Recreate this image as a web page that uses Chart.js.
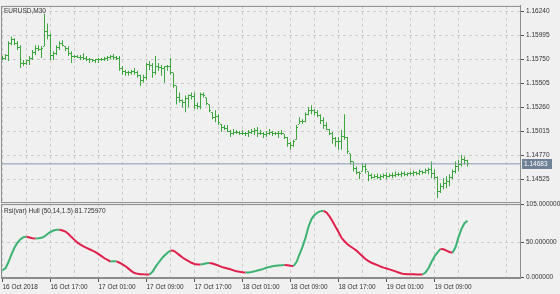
<!DOCTYPE html>
<html>
<head>
<meta charset="utf-8">
<script src="https://cdn.jsdelivr.net/npm/chart.js@4.4.1/dist/chart.umd.min.js"></script>
<style>
  html, body { margin: 0; padding: 0; background: #f0f0f0; }
  canvas { display: block; }
</style>
</head>
<body>
<canvas id="chart" width="560" height="294"></canvas>
<script>
// EURUSD M30 bars with the Rsi(var) Hull indicator pane underneath
const symbol = 'EURUSD,M30';
const indicatorName = 'Rsi(var) Hull (50,14,1.5)';

// one label every 16 bars (8 hours), first bar is 16 Oct 09:00
const timeLabels = ['16 Oct 2018', '16 Oct 17:00', '17 Oct 01:00', '17 Oct 09:00', '17 Oct 17:00',
    '18 Oct 01:00', '18 Oct 09:00', '18 Oct 17:00', '19 Oct 01:00', '19 Oct 09:00'];

const priceTicks = [1.16240, 1.15995, 1.15750, 1.15505, 1.15260, 1.15015, 1.14770, 1.14525];
const hullTicks = [105, 50, 0];

const opens = [
    1.15753, 1.15763, 1.15793, 1.15914, 1.15954, 1.15914, 1.15874, 1.15712, 1.15712, 1.15733,
    1.15763, 1.15824, 1.15864, 1.15854, 1.15884, 1.16035, 1.15994, 1.15793, 1.15813, 1.15874,
    1.15914, 1.15884, 1.15864, 1.15813, 1.15783, 1.15783, 1.15773, 1.15773, 1.15763, 1.15753,
    1.15743, 1.15733, 1.15743, 1.15743, 1.15753, 1.15763, 1.15773, 1.15783, 1.15773, 1.15763,
    1.15652, 1.15622, 1.15612, 1.15612, 1.15622, 1.15612, 1.15582, 1.15532, 1.15562, 1.15692,
    1.15682, 1.15612, 1.15672, 1.15662, 1.15652, 1.15672, 1.15672, 1.15612, 1.15481, 1.15361,
    1.15331, 1.15310, 1.15351, 1.15381, 1.15371, 1.15280, 1.15270, 1.15391, 1.15361, 1.15290,
    1.15209, 1.15159, 1.15169, 1.15089, 1.15059, 1.15049, 1.15018, 1.14998, 1.15008, 1.15008,
    1.14998, 1.14998, 1.14988, 1.15008, 1.15018, 1.15028, 1.14998, 1.14998, 1.14978, 1.14998,
    1.15008, 1.14988, 1.14998, 1.14998, 1.14988, 1.14948, 1.14888, 1.14868, 1.14928, 1.15089,
    1.15119, 1.15119, 1.15189, 1.15229, 1.15229, 1.15209, 1.15179, 1.15129, 1.15079, 1.15038,
    1.14998, 1.14938, 1.14908, 1.14908, 1.14958, 1.14948, 1.14787, 1.14706, 1.14636, 1.14596,
    1.14606, 1.14656, 1.14606, 1.14566, 1.14546, 1.14556, 1.14546, 1.14556, 1.14566, 1.14556,
    1.14566, 1.14566, 1.14576, 1.14576, 1.14586, 1.14576, 1.14586, 1.14586, 1.14596, 1.14586,
    1.14606, 1.14596, 1.14616, 1.14626, 1.14586, 1.14546, 1.14405, 1.14455, 1.14485, 1.14505,
    1.14546, 1.14606, 1.14656, 1.14676, 1.14726, 1.14716
];
const highs = [
    1.15783, 1.15803, 1.15934, 1.15984, 1.15964, 1.15934, 1.15894, 1.15743, 1.15743, 1.15783,
    1.15844, 1.15894, 1.15894, 1.15884, 1.16215, 1.16115, 1.16014, 1.15833, 1.15894, 1.15934,
    1.15944, 1.15884, 1.15884, 1.15833, 1.15793, 1.15793, 1.15793, 1.15813, 1.15783, 1.15763,
    1.15753, 1.15753, 1.15763, 1.15763, 1.15773, 1.15783, 1.15793, 1.15803, 1.15783, 1.15783,
    1.15682, 1.15642, 1.15632, 1.15642, 1.15662, 1.15632, 1.15592, 1.15592, 1.15712, 1.15733,
    1.15712, 1.15783, 1.15712, 1.15692, 1.15682, 1.15692, 1.15763, 1.15612, 1.15481, 1.15411,
    1.15341, 1.15381, 1.15391, 1.15411, 1.15411, 1.15310, 1.15411, 1.15411, 1.15361, 1.15290,
    1.15209, 1.15229, 1.15189, 1.15089, 1.15079, 1.15079, 1.15028, 1.15038, 1.15028, 1.15018,
    1.15028, 1.15008, 1.15028, 1.15038, 1.15048, 1.15059, 1.15028, 1.15008, 1.15018, 1.15038,
    1.15018, 1.15008, 1.15018, 1.15028, 1.14988, 1.14958, 1.14908, 1.14928, 1.15079, 1.15159,
    1.15139, 1.15209, 1.15260, 1.15280, 1.15240, 1.15229, 1.15189, 1.15159, 1.15109, 1.15038,
    1.15008, 1.14958, 1.14958, 1.15028, 1.15189, 1.14958, 1.14787, 1.14706, 1.14656, 1.14606,
    1.14686, 1.14686, 1.14606, 1.14586, 1.14576, 1.14586, 1.14576, 1.14586, 1.14596, 1.14586,
    1.14596, 1.14606, 1.14596, 1.14606, 1.14606, 1.14596, 1.14606, 1.14616, 1.14606, 1.14626,
    1.14616, 1.14636, 1.14646, 1.14706, 1.14626, 1.14556, 1.14485, 1.14536, 1.14556, 1.14576,
    1.14626, 1.14706, 1.14726, 1.14777, 1.14757, 1.14726
];
const lows = [
    1.15743, 1.15743, 1.15733, 1.15894, 1.15894, 1.15844, 1.15662, 1.15682, 1.15692, 1.15692,
    1.15743, 1.15793, 1.15834, 1.15763, 1.15884, 1.15954, 1.15743, 1.15743, 1.15793, 1.15844,
    1.15884, 1.15834, 1.15783, 1.15712, 1.15763, 1.15763, 1.15743, 1.15743, 1.15733, 1.15712,
    1.15722, 1.15712, 1.15712, 1.15733, 1.15733, 1.15733, 1.15753, 1.15743, 1.15743, 1.15632,
    1.15592, 1.15582, 1.15582, 1.15592, 1.15592, 1.15562, 1.15481, 1.15511, 1.15542, 1.15642,
    1.15562, 1.15592, 1.15632, 1.15582, 1.15511, 1.15632, 1.15592, 1.15461, 1.15290, 1.15310,
    1.15260, 1.15209, 1.15260, 1.15341, 1.15240, 1.15240, 1.15240, 1.15361, 1.15280, 1.15209,
    1.15139, 1.15109, 1.15079, 1.15008, 1.15028, 1.15008, 1.14958, 1.14978, 1.14988, 1.14978,
    1.14978, 1.14968, 1.14958, 1.14988, 1.14978, 1.14958, 1.14978, 1.14948, 1.14958, 1.14978,
    1.14968, 1.14978, 1.14948, 1.14978, 1.14938, 1.14857, 1.14828, 1.14857, 1.14928, 1.15089,
    1.15089, 1.15109, 1.15179, 1.15189, 1.15179, 1.15159, 1.15089, 1.15038, 1.15028, 1.14978,
    1.14888, 1.14857, 1.14828, 1.14828, 1.14928, 1.14787, 1.14676, 1.14606, 1.14576, 1.14526,
    1.14606, 1.14586, 1.14505, 1.14526, 1.14536, 1.14526, 1.14516, 1.14536, 1.14526, 1.14546,
    1.14536, 1.14546, 1.14556, 1.14546, 1.14556, 1.14556, 1.14566, 1.14556, 1.14566, 1.14566,
    1.14576, 1.14586, 1.14576, 1.14536, 1.14526, 1.14335, 1.14385, 1.14425, 1.14435, 1.14455,
    1.14526, 1.14586, 1.14606, 1.14656, 1.14676, 1.14656
];
const closes = [
    1.15763, 1.15793, 1.15914, 1.15954, 1.15914, 1.15874, 1.15712, 1.15712, 1.15733, 1.15763,
    1.15824, 1.15864, 1.15854, 1.15864, 1.16035, 1.15994, 1.15793, 1.15813, 1.15874, 1.15914,
    1.15894, 1.15864, 1.15813, 1.15783, 1.15783, 1.15773, 1.15773, 1.15763, 1.15753, 1.15743,
    1.15733, 1.15743, 1.15743, 1.15753, 1.15763, 1.15773, 1.15783, 1.15773, 1.15763, 1.15652,
    1.15622, 1.15612, 1.15612, 1.15622, 1.15612, 1.15582, 1.15532, 1.15562, 1.15692, 1.15682,
    1.15612, 1.15672, 1.15662, 1.15652, 1.15672, 1.15672, 1.15612, 1.15481, 1.15361, 1.15331,
    1.15310, 1.15351, 1.15381, 1.15371, 1.15280, 1.15270, 1.15391, 1.15381, 1.15300, 1.15229,
    1.15159, 1.15169, 1.15109, 1.15059, 1.15049, 1.15018, 1.14998, 1.15008, 1.15008, 1.14998,
    1.14998, 1.14988, 1.15008, 1.15018, 1.15028, 1.14998, 1.14998, 1.14978, 1.14998, 1.15008,
    1.14988, 1.14998, 1.14998, 1.14988, 1.14948, 1.14888, 1.14868, 1.14908, 1.15059, 1.15119,
    1.15119, 1.15189, 1.15229, 1.15229, 1.15209, 1.15179, 1.15129, 1.15079, 1.15038, 1.14998,
    1.14938, 1.14908, 1.14908, 1.14958, 1.14948, 1.14807, 1.14706, 1.14636, 1.14596, 1.14586,
    1.14656, 1.14626, 1.14566, 1.14546, 1.14556, 1.14546, 1.14556, 1.14566, 1.14556, 1.14566,
    1.14566, 1.14576, 1.14576, 1.14586, 1.14576, 1.14586, 1.14586, 1.14596, 1.14586, 1.14606,
    1.14596, 1.14616, 1.14626, 1.14586, 1.14546, 1.14405, 1.14455, 1.14485, 1.14505, 1.14546,
    1.14606, 1.14656, 1.14676, 1.14726, 1.14716, 1.14683
];
const hull = [
    10.3, 13, 22, 33, 43, 50, 55, 58, 58.5, 57.5,
    56.5, 55.9, 56.2, 57, 59, 62.5, 65.4, 67.5, 68.5, 68.7,
    67.5, 66, 62.5, 58, 54, 50, 47, 44.5, 42.5, 40.5,
    38.5, 36.2, 33.5, 30.5, 27.5, 25, 22.8, 23, 23.1, 21,
    18.5, 16, 12.5, 9, 6.2, 5, 4.5, 4.3, 4.2, 4.1,
    8, 15, 21, 26.5, 31.5, 35.5, 38.6, 38.3, 35.5, 32,
    28.5, 25.9, 23.5, 21, 19.2, 18.5, 18.4, 19.3, 20.2, 20.6,
    19.8, 18.4, 16.8, 15, 13.9, 12.8, 11.7, 10, 8.8, 7.9,
    7.4, 7, 7.1, 7.6, 8.6, 9.8, 10.8, 12.2, 13.8, 15,
    16, 16.6, 17, 17.4, 17.8, 17.5, 16.8, 16.3, 22, 33,
    44, 57, 73, 84, 90, 93.5, 95.5, 96, 93.5, 88,
    81, 73, 65.5, 57, 52, 47.8, 44.5, 41.5, 38.5, 34.5,
    30.5, 26.5, 23.3, 21, 19.2, 17.5, 15.5, 14, 12.8, 11.5,
    10, 8.5, 7, 5.5, 4.6, 4.5, 4.4, 4.3, 4.2, 4.1,
    4, 7, 13, 22, 30, 36, 41, 40.5, 38.4, 36.5,
    35.5, 43.3, 58, 70, 78, 81.72597
];

const barColor = '#3ea63e';
const upColor = '#3cb371';
const downColor = '#e0204a';
const gridColor = '#cdcdcd';
const frameColor = '#8c8c8c';
const textColor = '#333333';
const font = { family: '"Liberation Sans", Arial, sans-serif', size: 6.5 };

const lastPrice = closes[closes.length - 1];
const xMin = -0.5, xMax = 172.5;

// grid every 8 bars, labels every 16
const gridBars = [];
for (let i = 0; i <= 168; i += 8) gridBars.push(i);

const background = {
    id: 'background',
    beforeDraw(chart) {
        const ctx = chart.ctx;
        ctx.save();
        ctx.fillStyle = '#f0f0f0';
        ctx.fillRect(0, 0, chart.width, chart.height);
        ctx.restore();
    }
};

// open / close ticks of the OHLC bars
const ohlcTicks = {
    id: 'ohlcTicks',
    afterDatasetsDraw(chart) {
        const { ctx, scales: { x, y } } = chart;
        ctx.save();
        ctx.fillStyle = barColor;
        opens.forEach((o, i) => {
            const px = Math.floor(x.getPixelForValue(i));
            ctx.fillRect(px - 1, Math.floor(y.getPixelForValue(o)), 1, 1);
            ctx.fillRect(px + 1, Math.floor(y.getPixelForValue(closes[i])), 1, 1);
        });
        ctx.restore();
    }
};

const paneDecor = {
    id: 'paneDecor',
    afterDraw(chart) {
        const { ctx, chartArea: a, scales: { y, y2 } } = chart;
        ctx.save();
        ctx.strokeStyle = frameColor;
        ctx.lineWidth = 1;
        ctx.strokeRect(a.left + 0.5, y.top + 0.5, a.right - a.left, y.bottom - y.top - 1);
        ctx.strokeRect(a.left + 0.5, y2.top + 1.5, a.right - a.left, y2.bottom - y2.top - 2);

        ctx.font = `${font.size}px ${font.family}`;
        ctx.textBaseline = 'middle';
        const py = Math.round(y.getPixelForValue(lastPrice));
        ctx.fillStyle = '#6f8196';
        ctx.fillRect(a.right + 2, py - 5, 30, 10);
        ctx.fillStyle = '#ffffff';
        ctx.fillText(lastPrice.toFixed(5), a.right + 4, py);

        ctx.fillStyle = textColor;
        ctx.fillText(symbol, 4, y.top + 5);
        ctx.fillText(indicatorName + ' ' + hull[hull.length - 1].toFixed(6), 4, y2.top + 8.5);
        ctx.restore();
    }
};

new Chart(document.getElementById('chart'), {
    type: 'bar',
    data: {
        datasets: [
            {
                type: 'line',
                label: 'last',
                data: [{ x: xMin, y: lastPrice }, { x: xMax, y: lastPrice }],
                yAxisID: 'y',
                borderColor: '#8a9bb0',
                borderWidth: 1,
                pointRadius: 0
            },
            {
                type: 'bar',
                label: symbol,
                data: highs.map((h, i) => ({ x: i, y: [lows[i], h] })),
                yAxisID: 'y',
                backgroundColor: barColor,
                borderWidth: 0,
                barThickness: 1,
                inflateAmount: 0,
                grouped: false
            },
            {
                type: 'line',
                label: indicatorName,
                data: hull.map((v, i) => ({ x: i, y: v })),
                yAxisID: 'y2',
                borderColor: upColor,
                borderWidth: 2,
                pointRadius: 0,
                tension: 0,
                segment: {
                    borderColor: c => c.p1.parsed.y >= c.p0.parsed.y ? upColor : downColor
                }
            }
        ]
    },
    options: {
        responsive: false,
        animation: false,
        layout: { padding: { left: 1, top: 2, right: 0, bottom: 0 } },
        plugins: {
            legend: { display: false },
            tooltip: { enabled: false }
        },
        scales: {
            x: {
                type: 'linear',
                min: xMin,
                max: xMax,
                offset: false,
                afterBuildTicks: s => { s.ticks = gridBars.map(v => ({ value: v })); },
                afterFit: s => { s.height = 16; },
                grid: {
                    offset: false,
                    color: gridColor,
                    tickLength: 4,
                    tickWidth: 1,
                    tickBorderDash: [],
                    tickColor: c => (c.tick && c.tick.value % 16 === 0) ? '#555555' : 'rgba(0,0,0,0)'
                },
                border: { color: frameColor, dash: [3, 3] },
                ticks: {
                    autoSkip: false,
                    maxRotation: 0,
                    align: 'start',
                    padding: 1,
                    color: textColor,
                    font: font,
                    callback: v => v % 16 === 0 ? timeLabels[v / 16] : ''
                }
            },
            y: {
                type: 'linear',
                position: 'right',
                stack: 'panes',
                stackWeight: 200,
                min: 1.14283,
                max: 1.16295,
                afterBuildTicks: s => { s.ticks = priceTicks.map(v => ({ value: v })); },
                afterFit: s => { s.width = 40; },
                grid: {
                    color: gridColor,
                    tickLength: 4,
                    tickBorderDash: [],
                    tickColor: '#555555'
                },
                border: { color: frameColor, dash: [3, 3] },
                ticks: {
                    padding: 2,
                    color: textColor,
                    font: font,
                    callback: v => v.toFixed(5)
                }
            },
            y2: {
                type: 'linear',
                position: 'right',
                stack: 'panes',
                stackWeight: 76,
                min: -1,
                max: 107.1,
                afterBuildTicks: s => { s.ticks = hullTicks.map(v => ({ value: v })); },
                afterFit: s => { s.width = 40; },
                grid: {
                    color: gridColor,
                    tickLength: 4,
                    tickBorderDash: [],
                    tickColor: '#555555'
                },
                border: { color: frameColor, dash: [3, 3] },
                ticks: {
                    padding: 2,
                    color: textColor,
                    font: font,
                    callback: v => v.toFixed(6)
                }
            }
        }
    },
    plugins: [background, ohlcTicks, paneDecor]
});
</script>
</body>
</html>
